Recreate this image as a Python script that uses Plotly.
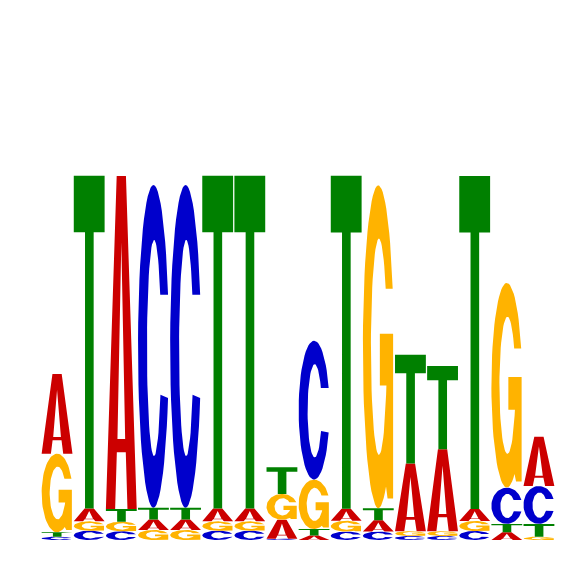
import numpy as np
import plotly.graph_objects as go

# sequence logo, 16 positions, heights in bits
positions = list(range(1, 17))
height_A = [0.435, 0.07, 1.82, 0.057, 0.057, 0.07, 0.07, 0.104, 0.025, 0.066, 0.062, 0.37, 0.448, 0.066, 0.042, 0.27]
height_C = [0.018, 0.051, 0.048, 1.765, 1.765, 0.051, 0.051, 0.007, 0.76, 0.046, 0.046, 0.022, 0.022, 0.049, 0.198, 0.207]
height_G = [0.43, 0.051, 0.052, 0.055, 0.055, 0.051, 0.051, 0.141, 0.27, 0.059, 1.765, 0.026, 0.026, 0.055, 1.12, 0.018]
height_T = [0.024, 1.82, 0.07, 0.064, 0.064, 1.82, 1.82, 0.146, 0.035, 1.82, 0.066, 0.595, 0.455, 1.82, 0.046, 0.07]

bases = ["A", "C", "G", "T"]
heights = {"A": height_A, "C": height_C, "G": height_G, "T": height_T}
colors = {"A": "#cc0000", "C": "#0000cc", "G": "#ffb300", "T": "#008000"}


def arc(cx, cy, rx, ry, a0, a1, n=60):
    t = np.radians(np.linspace(a0, a1, n))
    return list(cx + rx * np.cos(t)), list(cy + ry * np.sin(t))


def glyph(letter):
    # letter outlines in a unit box; holes go the other way round
    if letter == "T":
        return [([0, 1, 1, 0.645, 0.645, 0.365, 0.365, 0],
                 [1, 1, 0.83, 0.83, 0, 0, 0.83, 0.83])]
    if letter == "A":
        outer = ([0, 0.35, 0.65, 1, 0.7, 0.645, 0.355, 0.3],
                 [0, 1, 1, 0, 0, 0.17, 0.17, 0])
        hole = ([0.375, 0.625, 0.5], [0.21, 0.21, 0.8])
        return [outer, hole]
    if letter == "C":
        top = np.degrees(np.arcsin(0.32))
        ox, oy = arc(0.5, 0.5, 0.5, 0.5, top, 360 - top)
        i0 = np.degrees(np.arcsin((0.35 - 0.495) / 0.335))
        i1 = np.degrees(np.arcsin((0.66 - 0.495) / 0.335))
        ix, iy = arc(0.52, 0.495, 0.23, 0.335, i0, i1 - 360)
        return [(ox + ix, oy + iy)]
    # G
    top = np.degrees(np.arcsin(0.36))
    ox, oy = arc(0.5, 0.5, 0.5, 0.5, top, 300)
    ox += [0.8, 0.98, 0.98, 0.55, 0.55]
    oy += [0.03, 0.03, 0.54, 0.54, 0.38]
    i0 = np.degrees(np.arcsin((0.38 - 0.5) / 0.335))
    i1 = np.degrees(np.arcsin((0.68 - 0.5) / 0.335))
    ix, iy = arc(0.52, 0.5, 0.26, 0.335, i0, i1 - 360)
    return [(ox + ix, oy + iy)]


col_width = 0.96
xs = {b: [] for b in bases}
ys = {b: [] for b in bases}

for i, pos in enumerate(positions):
    # smallest letter at the bottom of the stack
    order = sorted(bases, key=lambda b: heights[b][i])
    y0 = 0.0
    for b in order:
        h = heights[b][i]
        for gx, gy in glyph(b):
            xs[b] += [pos - col_width / 2 + col_width * v for v in gx] + [None]
            ys[b] += [y0 + h * v for v in gy] + [None]
        y0 += h

fig = go.Figure()
for b in bases:
    fig.add_trace(go.Scatter(
        x=xs[b], y=ys[b], mode="lines", fill="toself",
        fillcolor=colors[b], line=dict(width=0, color=colors[b]),
        hoverinfo="skip", showlegend=False,
    ))

# page body adds 8px, so margins are a bit smaller on the top/left
fig.update_layout(
    width=566, height=566,
    margin=dict(l=33, r=19, t=12, b=34),
    paper_bgcolor="white", plot_bgcolor="white",
)
fig.update_xaxes(visible=False, range=[0.5, 16.5])
fig.update_yaxes(visible=False, range=[0, 520 / 182.9])

fig.write_html("out.html")
